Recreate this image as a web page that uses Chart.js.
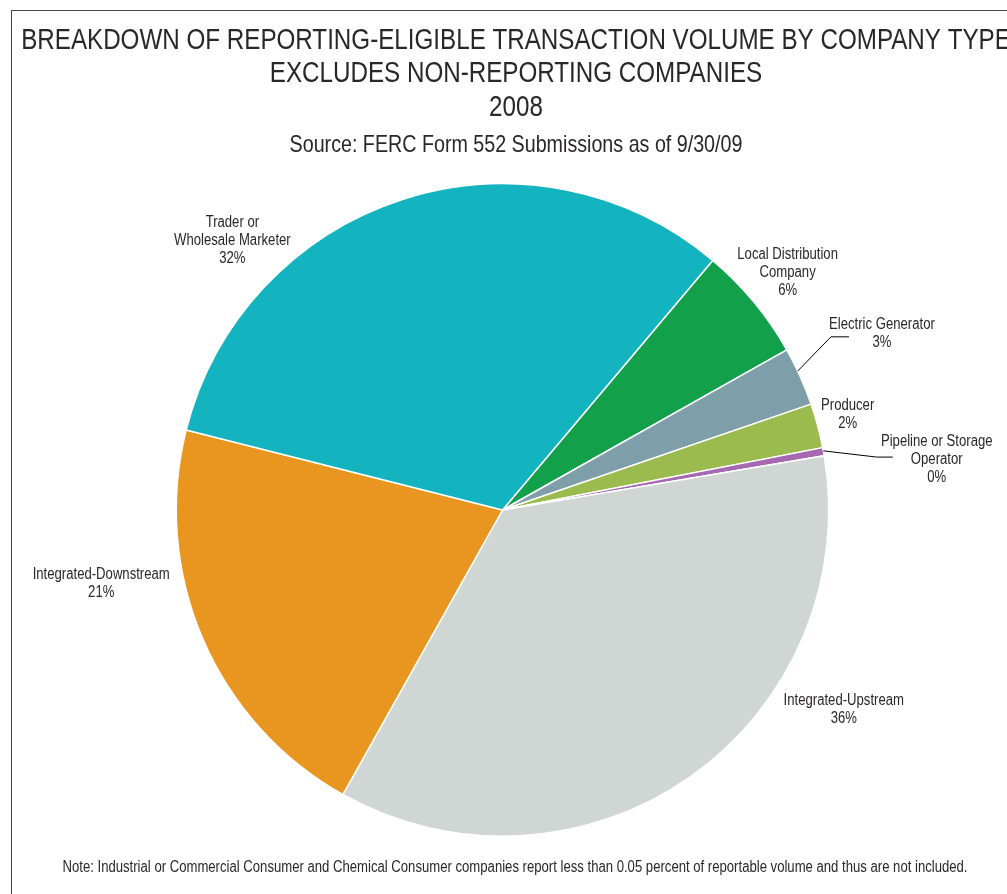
<!DOCTYPE html>
<html>
<head>
<meta charset="utf-8">
<title>Reporting-Eligible Transaction Volume 2008</title>
<script src="https://cdn.jsdelivr.net/npm/chart.js@4.4.1/dist/chart.umd.min.js"></script>
<style>
  html, body { margin: 0; padding: 0; background: #fff; overflow: hidden; }
  .frame {
    position: absolute;
    left: 11px;
    top: 10px;
    width: 1100px;
    height: 1000px;
    border-left: 1px solid #444;
    border-top: 1px solid #444;
  }
  .wrap { position: absolute; left: 0; top: 0; width: 1007px; height: 894px; }
</style>
</head>
<body>
<div class="frame"></div>
<div class="wrap"><canvas id="myChart"></canvas></div>
<script>
const titleLines = [
  "BREAKDOWN OF REPORTING-ELIGIBLE TRANSACTION VOLUME BY COMPANY TYPE",
  "EXCLUDES NON-REPORTING COMPANIES",
  "2008",
];
const sourceText = "Source: FERC Form 552 Submissions as of 9/30/09";
const noteText = "Note: Industrial or Commercial Consumer and Chemical Consumer companies report less than 0.05 percent of reportable volume and thus are not included.";

// company types, clockwise starting from the top right
const categories = [
  ["Local Distribution", "Company"],
  ["Electric Generator"],
  ["Producer"],
  ["Pipeline or Storage", "Operator"],
  ["Integrated-Upstream"],
  ["Integrated-Downstream"],
  ["Trader or", "Wholesale Marketer"],
];
// share of volume, percent
const shares = [5.7, 2.9, 2.2, 0.4, 35.8, 20.8, 32.2];
const colors = ["#12A04B", "#7E9EA9", "#9CBB4E", "#A668AE", "#D0D6D4", "#E99621", "#13B3BF"];

// label centres, in pie radii from the centre
const labelSpots = [
  [0.874, -0.728],
  [1.163, -0.540],
  [1.058, -0.291],
  [1.331, -0.153],
  [1.046, 0.613],
  [-1.230, 0.227],
  [-0.828, -0.826],
];
// leader lines: elbow and end, px from the label centre
const leaders = {
  1: [[-51, 3], [-33, 3]],
  3: [[-60, -3], [-44, -3]],
};

const squeeze = 0.82; // narrow face
const ink = "#2A2728";

function narrowText(ctx, text, x, y, size) {
  ctx.save();
  ctx.font = size + "px 'Liberation Sans', Arial, sans-serif";
  ctx.textAlign = "center";
  ctx.textBaseline = "middle";
  ctx.fillStyle = ink;
  ctx.translate(x, y);
  ctx.scale(squeeze, 1);
  ctx.fillText(text, 0, 0);
  ctx.restore();
}

const textPlugin = {
  id: "pieText",
  afterDraw(chart) {
    const ctx = chart.ctx;
    const midX = 516;
    narrowText(ctx, titleLines[0], midX, 41, 29.5);
    narrowText(ctx, titleLines[1], midX, 74, 29.5);
    narrowText(ctx, titleLines[2], midX, 108, 29.5);
    narrowText(ctx, sourceText, midX, 145, 24);
    narrowText(ctx, noteText, 515, 868, 16);

    const total = shares.reduce((a, b) => a + b, 0);
    const arcs = chart.getDatasetMeta(0).data;
    arcs.forEach((arc, i) => {
      const { x, y, outerRadius, startAngle, endAngle } = arc.getProps(["x", "y", "outerRadius", "startAngle", "endAngle"], true);
      const lx = x + labelSpots[i][0] * outerRadius;
      const ly = y + labelSpots[i][1] * outerRadius;
      const lines = categories[i].concat([Math.round(shares[i] / total * 100) + "%"]);
      const step = 18;
      const top = ly - (lines.length - 1) * step / 2;
      lines.forEach((t, k) => narrowText(ctx, t, lx, top + k * step, 16));

      if (leaders[i]) {
        // leave the slice a little before its middle, as the callouts do
        const mid = startAngle + (endAngle - startAngle) * 0.4;
        ctx.save();
        ctx.strokeStyle = "#000";
        ctx.lineWidth = 1;
        ctx.beginPath();
        ctx.moveTo(x + Math.cos(mid) * outerRadius, y + Math.sin(mid) * outerRadius);
        ctx.lineTo(lx + leaders[i][0][0], ly + leaders[i][0][1]);
        ctx.lineTo(lx + leaders[i][1][0], ly + leaders[i][1][1]);
        ctx.stroke();
        ctx.restore();
      }
    });
  },
};

new Chart(document.getElementById("myChart"), {
  type: "pie",
  data: {
    labels: categories,
    datasets: [{
      data: shares,
      backgroundColor: colors,
      borderColor: "#fff",
      borderWidth: 1.5,
      hoverOffset: 0,
    }],
  },
  options: {
    responsive: true,
    maintainAspectRatio: false,
    animation: false,
    rotation: 40.1,
    layout: { padding: { left: 175, right: 177, top: 183, bottom: 57 } },
    plugins: {
      legend: { display: false },
      tooltip: { enabled: false },
    },
  },
  plugins: [textPlugin],
});
</script>
</body>
</html>
